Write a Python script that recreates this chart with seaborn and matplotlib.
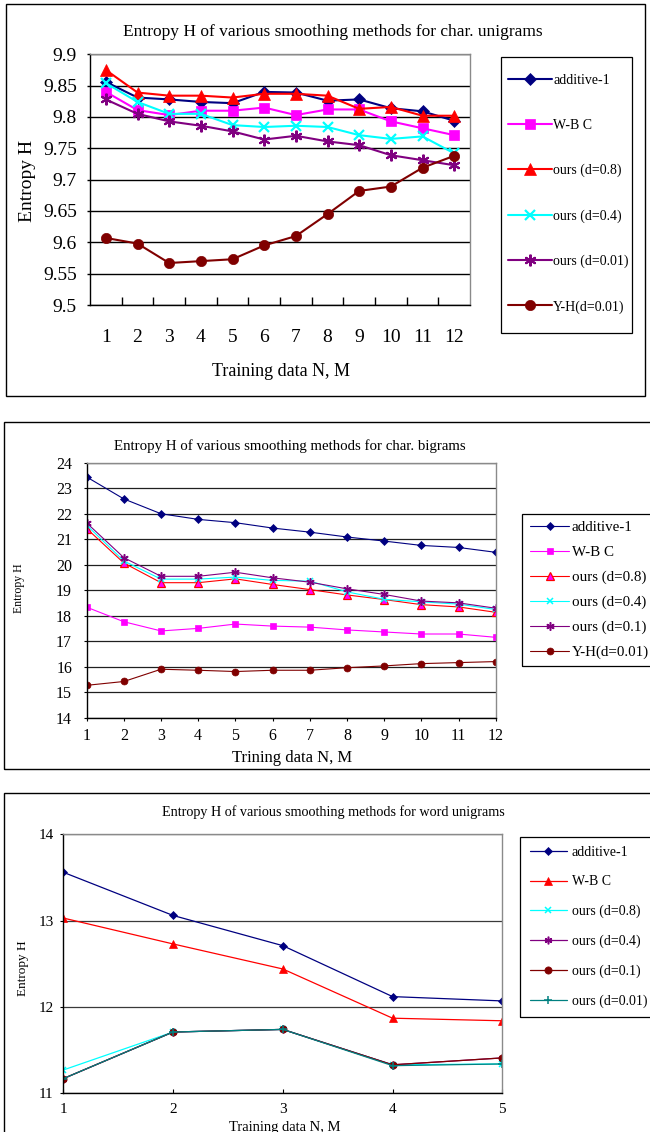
import matplotlib
matplotlib.use("Agg")
import matplotlib.pyplot as plt
import seaborn as sns
from matplotlib.patches import Rectangle

# ---------------- data ----------------
# char. unigrams
uni_n = [1, 2, 3, 4, 5, 6, 7, 8, 9, 10, 11, 12]
uni_additive = [9.856, 9.831, 9.828, 9.824, 9.822, 9.840, 9.839, 9.826, 9.828, 9.814, 9.809, 9.794]
uni_wbc = [9.840, 9.811, 9.803, 9.810, 9.810, 9.815, 9.803, 9.812, 9.812, 9.793, 9.782, 9.771]
uni_d08 = [9.875, 9.839, 9.834, 9.834, 9.831, 9.837, 9.837, 9.834, 9.813, 9.816, 9.802, 9.802]
uni_d04 = [9.854, 9.824, 9.805, 9.805, 9.787, 9.784, 9.786, 9.784, 9.771, 9.765, 9.769, 9.742]
uni_d001 = [9.828, 9.805, 9.793, 9.786, 9.777, 9.764, 9.770, 9.761, 9.755, 9.739, 9.731, 9.723]
uni_yh = [9.607, 9.598, 9.567, 9.570, 9.573, 9.595, 9.610, 9.645, 9.682, 9.689, 9.719, 9.738]
uni_yticks = [9.5, 9.55, 9.6, 9.65, 9.7, 9.75, 9.8, 9.85, 9.9]
uni_labels = ["additive-1", "W-B C", "ours (d=0.8)", "ours (d=0.4)", "ours (d=0.01)", "Y-H(d=0.01)"]

# char. bigrams
bi_n = [1, 2, 3, 4, 5, 6, 7, 8, 9, 10, 11, 12]
bi_additive = [23.44, 22.58, 22.00, 21.78, 21.65, 21.44, 21.28, 21.09, 20.93, 20.76, 20.68, 20.49]
bi_wbc = [18.34, 17.77, 17.41, 17.51, 17.68, 17.60, 17.56, 17.45, 17.37, 17.29, 17.29, 17.16]
bi_d08 = [21.42, 20.07, 19.30, 19.30, 19.45, 19.23, 19.03, 18.82, 18.64, 18.44, 18.35, 18.14]
bi_d04 = [21.55, 20.15, 19.44, 19.44, 19.52, 19.39, 19.36, 18.94, 18.65, 18.55, 18.46, 18.25]
bi_d01 = [21.64, 20.28, 19.55, 19.55, 19.71, 19.49, 19.32, 19.06, 18.84, 18.58, 18.51, 18.30]
bi_yh = [15.28, 15.43, 15.91, 15.87, 15.82, 15.87, 15.87, 15.97, 16.04, 16.13, 16.17, 16.21]
bi_yticks = [14, 15, 16, 17, 18, 19, 20, 21, 22, 23, 24]
bi_labels = ["additive-1", "W-B C", "ours (d=0.8)", "ours (d=0.4)", "ours (d=0.1)", "Y-H(d=0.01)"]

# word unigrams
w_n = [1, 2, 3, 4, 5]
w_additive = [13.56, 13.06, 12.71, 12.12, 12.07]
w_wbc = [13.03, 12.73, 12.44, 11.87, 11.84]
w_d08 = [11.27, 11.71, 11.74, 11.33, 11.34]
w_d04 = [11.17, 11.71, 11.74, 11.33, 11.41]
w_d01 = [11.17, 11.71, 11.74, 11.33, 11.41]
w_d001 = [11.17, 11.71, 11.74, 11.32, 11.34]
w_yticks = [11, 12, 13, 14]
w_labels = ["additive-1", "W-B C", "ours (d=0.8)", "ours (d=0.4)", "ours (d=0.1)", "ours (d=0.01)"]

TITLE_FMT = "Entropy H of various smoothing methods for {}"

NAVY, MAGENTA, RED, CYAN, PURPLE, DARKRED, TEAL = (
    "#000080", "#FF00FF", "#FF0000", "#00FFFF", "#800080", "#800000", "#008080")
ASTER = (6, 2, 0)

# ---------------- figure ----------------
sns.set_theme(style="white")
plt.rcParams["font.family"] = ["Liberation Serif", "DejaVu Serif"]

W, H = 650, 1132
fig = plt.figure(figsize=(W / 100, H / 100), dpi=100)
fig.patch.set_facecolor("white")


def add_ax(left, top, right, bottom):
    ax = fig.add_axes([left / W, 1 - bottom / H, (right - left) / W, (bottom - top) / H])
    ax._px_box = (left, top, right, bottom)
    return ax


def box(left, top, right, bottom, lw):
    fig.patches.append(Rectangle((left / W, 1 - bottom / H), (right - left) / W,
                                 (bottom - top) / H, transform=fig.transFigure,
                                 fill=False, edgecolor="black", linewidth=lw, zorder=0))


def fx(px):
    return px / W


def fy(py):
    return 1 - py / H


def style_axes(ax, grid_color, grid_lw):
    ax.set_facecolor("white")
    for side in ("left", "bottom"):
        ax.spines[side].set_color("black")
        ax.spines[side].set_linewidth(1.0)
    for side in ("top", "right"):
        ax.spines[side].set_color("#8a8a8a")
        ax.spines[side].set_linewidth(1.0)
        ax.spines[side].set_visible(True)
    ax.grid(axis="y", color=grid_color, linewidth=grid_lw)
    ax.grid(axis="x", visible=False)
    ax.set_axisbelow(True)


def draw_series(ax, x, series, specs, lw):
    for y, (label, color, marker, ms, mfc, mec, mew) in zip(series, specs):
        sns.lineplot(x=x, y=y, ax=ax, color=color, linewidth=lw, marker=marker,
                     markersize=ms, markerfacecolor=mfc, markeredgecolor=mec,
                     markeredgewidth=mew, label=label, errorbar=None)


def put_labels(ax, title, tx, ty, tfs, xlabel, xx, xy, xfs, ylabel, yx, yy, yfs):
    left, top, right, bottom = ax._px_box
    ax.set_title(title, fontsize=tfs, color="black", pad=0,
                 x=(tx - left) / (right - left), y=(bottom - ty) / (bottom - top),
                 va="center", ha="center")
    ax.set_xlabel(xlabel, fontsize=xfs, color="black")
    ax.xaxis.set_label_coords(fx(xx), fy(xy), transform=fig.transFigure)
    ax.xaxis.label.set_va("center")
    ax.set_ylabel(ylabel, fontsize=yfs, color="black")
    ax.yaxis.set_label_coords(fx(yx), fy(yy), transform=fig.transFigure)
    ax.yaxis.label.set_va("center")


def put_legend(ax, hx, cy, fs, hl, tp, ls):
    handles, labels = ax.get_legend_handles_labels()
    ax.legend(handles, labels, loc="center left", bbox_to_anchor=(fx(hx), fy(cy)),
              bbox_transform=fig.transFigure, frameon=False, fontsize=fs,
              handlelength=hl, handletextpad=tp, labelspacing=ls,
              borderpad=0, borderaxespad=0, labelcolor="black")


# ---------- panel 1: char. unigrams ----------
box(6, 4, 645, 396, 1.0)
ax1 = add_ax(90, 54.3, 470, 305)
style_axes(ax1, "black", 1.0)
draw_series(ax1, uni_n,
            [uni_additive, uni_wbc, uni_d08, uni_d04, uni_d001, uni_yh],
            [(uni_labels[0], NAVY, "D", 6.0, NAVY, NAVY, 0.5),
             (uni_labels[1], MAGENTA, "s", 7.0, MAGENTA, MAGENTA, 0.5),
             (uni_labels[2], RED, "^", 8.4, RED, RED, 0.5),
             (uni_labels[3], CYAN, "x", 7.2, CYAN, CYAN, 1.6),
             (uni_labels[4], PURPLE, ASTER, 8.4, PURPLE, PURPLE, 1.5),
             (uni_labels[5], DARKRED, "o", 7.4, DARKRED, DARKRED, 0.5)],
            lw=1.5)
ax1.set_xlim(0.5, 12.5)
ax1.set_ylim(9.5, 9.9)
ax1.set_xticks(uni_n)
ax1.set_xticklabels([str(v) for v in uni_n])
ax1.set_xticks([v + 0.5 for v in uni_n[:-1]], minor=True)
ax1.set_yticks(uni_yticks)
ax1.set_yticklabels([f"{v:g}" for v in uni_yticks])
ax1.tick_params(axis="x", which="major", bottom=True, length=0, pad=17,
                labelsize=14, labelcolor="black")
ax1.tick_params(axis="x", which="minor", bottom=True, direction="in", length=6,
                width=1.0, color="black")
ax1.tick_params(axis="y", left=True, direction="out", length=2.5, width=1.0,
                color="black", pad=7, labelsize=14, labelcolor="black")
put_labels(ax1, TITLE_FMT.format("char. unigrams"), 333, 32, 12.5,
           "Training data N, M", 281, 371, 13,
           "Entropy H", 28, 181, 14)
box(500.7, 56.7, 632, 332.7, 0.9)
put_legend(ax1, 508, 193.7, 10, 3.15, 0.1, 2.3)

# ---------- panel 2: char. bigrams ----------
box(4, 422, 660, 769, 1.0)
ax2 = add_ax(86.7, 462.7, 495.7, 718)
style_axes(ax2, "#202020", 0.9)
draw_series(ax2, bi_n,
            [bi_additive, bi_wbc, bi_d08, bi_d04, bi_d01, bi_yh],
            [(bi_labels[0], NAVY, "D", 3.6, NAVY, NAVY, 0.5),
             (bi_labels[1], MAGENTA, "s", 5.0, MAGENTA, MAGENTA, 0.5),
             (bi_labels[2], RED, "^", 6.0, MAGENTA, RED, 0.9),
             (bi_labels[3], CYAN, "x", 5.0, CYAN, CYAN, 1.1),
             (bi_labels[4], PURPLE, ASTER, 6.0, PURPLE, PURPLE, 1.1),
             (bi_labels[5], DARKRED, "o", 5.0, DARKRED, DARKRED, 0.5)],
            lw=0.8)
ax2.set_xlim(1, 12)
ax2.set_ylim(14, 24)
ax2.set_xticks(bi_n)
ax2.set_xticklabels([str(v) for v in bi_n])
ax2.set_yticks(bi_yticks)
ax2.set_yticklabels([str(v) for v in bi_yticks])
ax2.tick_params(axis="x", bottom=True, direction="out", length=2.5, width=0.8,
                color="black", pad=5, labelsize=11.5, labelcolor="black")
ax2.tick_params(axis="y", left=True, direction="out", length=2.5, width=0.8,
                color="black", pad=8, labelsize=11.5, labelcolor="black")
put_labels(ax2, TITLE_FMT.format("char. bigrams"), 290, 445.7, 10.7,
           "Trining data N, M", 292, 757.7, 12,
           "Entropy H", 18.7, 588, 8.5)
box(521.7, 514, 660, 666, 0.9)
put_legend(ax2, 530, 590, 10.8, 2.6, 0.2, 0.76)

# ---------- panel 3: word unigrams ----------
box(4, 793, 660, 1145, 1.0)
ax3 = add_ax(63.3, 834.3, 502.3, 1093.3)
style_axes(ax3, "#3a3a3a", 0.9)
draw_series(ax3, w_n,
            [w_additive, w_wbc, w_d08, w_d04, w_d01, w_d001],
            [(w_labels[0], NAVY, "D", 4.2, NAVY, NAVY, 0.5),
             (w_labels[1], RED, "^", 6.2, RED, RED, 0.5),
             (w_labels[2], CYAN, "x", 5.0, CYAN, CYAN, 1.1),
             (w_labels[3], PURPLE, ASTER, 5.5, PURPLE, PURPLE, 1.1),
             (w_labels[4], DARKRED, "o", 5.2, DARKRED, DARKRED, 0.5),
             (w_labels[5], TEAL, "+", 6.0, TEAL, TEAL, 1.1)],
            lw=0.9)
ax3.set_xlim(1, 5)
ax3.set_ylim(11, 14)
ax3.set_xticks(w_n)
ax3.set_xticklabels([str(v) for v in w_n])
ax3.set_yticks(w_yticks)
ax3.set_yticklabels([str(v) for v in w_yticks])
ax3.tick_params(axis="x", bottom=True, direction="in", length=3, width=0.8,
                color="black", pad=7, labelsize=11, labelcolor="black")
ax3.tick_params(axis="y", left=True, direction="out", length=2.5, width=0.8,
                color="black", pad=4.5, labelsize=11, labelcolor="black")
put_labels(ax3, TITLE_FMT.format("word unigrams"), 333.6, 812, 10.2,
           "Training data N, M", 284.6, 1127, 10.5,
           "Entropy H", 23, 968, 9.5)
box(520, 836.7, 660, 1016.7, 0.9)
put_legend(ax3, 530, 927.2, 10, 2.65, 0.35, 1.19)

fig.savefig("out.png", dpi=100, facecolor="white")
